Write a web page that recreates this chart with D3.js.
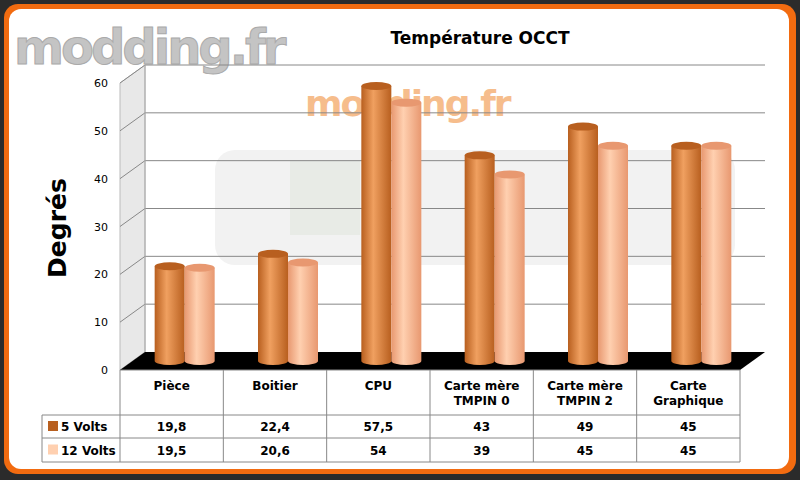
<!DOCTYPE html>
<html>
<head>
<meta charset="utf-8">
<script src="https://cdn.jsdelivr.net/npm/d3@7"></script>
<style>
  *{margin:0;padding:0;}
  body{background:#2b2b2b;}
  svg{font-family:"DejaVu Sans",sans-serif;}
</style>
</head>
<body>
<svg width="800" height="480"></svg>
<script>
var categories = [["Pièce"], ["Boitier"], ["CPU"], ["Carte mère", "TMPIN 0"], ["Carte mère", "TMPIN 2"], ["Carte", "Graphique"]];
var series = ["5 Volts", "12  Volts"];
var volts5 = [19.8, 22.4, 57.5, 43, 49, 45];
var volts12 = [19.5, 20.6, 54, 39, 45, 45];
var labels5 = ["19,8", "22,4", "57,5", "43", "49", "45"];
var labels12 = ["19,5", "20,6", "54", "39", "45", "45"];
var yTicks = [0, 10, 20, 30, 40, 50, 60];

var svg = d3.select("svg");
var colors = [["#b85f1f", "#f0a060"], ["#e89870", "#ffd0b0"]];
var dx = 25, dy = -18;
var left = 120, right = 740, y = d3.scaleLinear().domain([0, 60]).range([370, 83]);
var x = d3.scaleBand().domain(d3.range(6)).range([left, right]);

// cadre
svg.append("rect").attr("x", 4).attr("y", 4).attr("width", 792).attr("height", 470).attr("rx", 14).attr("fill", "#f26b10");
svg.append("rect").attr("x", 9).attr("y", 9).attr("width", 780).attr("height", 460).attr("rx", 12).attr("fill", "#fff");

var defs = svg.append("defs");
colors.forEach(function (c, i) {
  var g = defs.append("linearGradient").attr("id", "g" + i);
  g.append("stop").attr("offset", "0%").attr("stop-color", c[0]);
  g.append("stop").attr("offset", "40%").attr("stop-color", c[1]);
  g.append("stop").attr("offset", "100%").attr("stop-color", c[0]);
});

// murs
svg.append("path").attr("fill", "#e8e8e8").attr("stroke", "#bbb")
  .attr("d", "M" + left + "," + y(0) + "L" + left + "," + y(60) + "L" + (left + dx) + "," + (y(60) + dy) + "L" + (left + dx) + "," + (y(0) + dy) + "Z");
// appareil en fond, très pâle
svg.append("rect").attr("x", 215).attr("y", 150).attr("width", 520).attr("height", 115).attr("rx", 20).attr("fill", "#f2f2f2");
svg.append("rect").attr("x", 290).attr("y", 160).attr("width", 70).attr("height", 75).attr("fill", "#e8ebe6");

// filigranes
svg.append("text").attr("x", 14).attr("y", 64).attr("font-size", 48).attr("font-weight", "bold")
  .attr("fill", "#c4c4c4").attr("stroke", "#aaa").attr("letter-spacing", -3).text("modding.fr");
svg.append("text").attr("x", 305).attr("y", 116).attr("font-size", 36).attr("font-weight", "bold")
  .attr("fill", "#f3a25c").attr("letter-spacing", -2).attr("opacity", 0.7).text("modding.fr");

// grille
yTicks.slice(1).forEach(function (t) {
  svg.append("path").attr("fill", "none").attr("stroke", "#888").attr("stroke-width", 1)
    .attr("d", "M" + left + "," + y(t) + "L" + (left + dx) + "," + (y(t) + dy) + "L765," + (y(t) + dy));
});
svg.append("line").attr("x1", left + dx).attr("x2", left + dx).attr("y1", y(60) + dy).attr("y2", y(0) + dy).attr("stroke", "#aaa");
// sol
svg.append("path").attr("fill", "#000")
  .attr("d", "M" + left + "," + y(0) + "L" + (left + dx) + "," + (y(0) + dy) + "L765," + (y(0) + dy) + "L" + right + "," + y(0) + "Z");

svg.selectAll(".yt").data(yTicks).enter().append("text")
  .attr("x", 108).attr("y", function (d) { return y(d) + 4; }).attr("text-anchor", "end")
  .attr("font-size", 11).text(function (d) { return d; });

// cylindres
var base = y(0) + dy / 2, rx = 15, ry = 4;
function cyl(vals, s, off) {
  vals.forEach(function (v, i) {
    var cx = x(i) + x.bandwidth() / 2 + off;
    var top = base - (y(0) - y(v));
    var g = svg.append("g");
    g.append("path").attr("fill", "url(#g" + s + ")")
      .attr("d", "M" + (cx - rx) + "," + top + "L" + (cx - rx) + "," + base +
        "A" + rx + "," + ry + " 0 0 0 " + (cx + rx) + "," + base + "L" + (cx + rx) + "," + top + "Z");
    g.append("ellipse").attr("cx", cx).attr("cy", top).attr("rx", rx).attr("ry", ry).attr("fill", colors[s][0]);
  });
}
cyl(volts5, 0, -2);
cyl(volts12, 1, 28);

// tableau
var tb = svg.append("g").attr("stroke", "#888").attr("fill", "none");
tb.append("line").attr("x1", left).attr("x2", right).attr("y1", y(0)).attr("y2", y(0));
[415, 438, 462].forEach(function (yy) { tb.append("line").attr("x1", 42).attr("x2", right).attr("y1", yy).attr("y2", yy); });
d3.range(7).forEach(function (i) {
  var xx = left + i * x.bandwidth();
  tb.append("line").attr("x1", xx).attr("x2", xx).attr("y1", y(0)).attr("y2", 462);
});
tb.append("line").attr("x1", 42).attr("x2", 42).attr("y1", 415).attr("y2", 462);

categories.forEach(function (c, i) {
  var t = svg.append("text").attr("text-anchor", "middle").attr("font-size", 12).attr("font-weight", "bold");
  c.forEach(function (l, j) {
    t.append("tspan").attr("x", x(i) + x.bandwidth() / 2).attr("y", 390 + j * 15).text(l);
  });
});
[labels5, labels12].forEach(function (arr, s) {
  var yy = 431 + s * 23.5;
  arr.forEach(function (l, i) {
    svg.append("text").attr("x", x(i) + x.bandwidth() / 2).attr("y", yy).attr("text-anchor", "middle")
      .attr("font-size", 12).attr("font-weight", "bold").text(l);
  });
  svg.append("rect").attr("x", 48).attr("y", yy - 10).attr("width", 10).attr("height", 10).attr("fill", colors[s][s ? 1 : 0]);
  svg.append("text").attr("x", 61).attr("y", yy).attr("font-size", 12).attr("font-weight", "bold").text(series[s]);
});

svg.append("text").attr("x", 480).attr("y", 44).attr("text-anchor", "middle").attr("font-size", 17)
  .attr("font-weight", "bold").text("Température OCCT");
svg.append("text").attr("transform", "translate(66,228) rotate(-90)").attr("text-anchor", "middle")
  .attr("font-size", 25).attr("font-weight", "bold").text("Degrés");
</script>
</body>
</html>
